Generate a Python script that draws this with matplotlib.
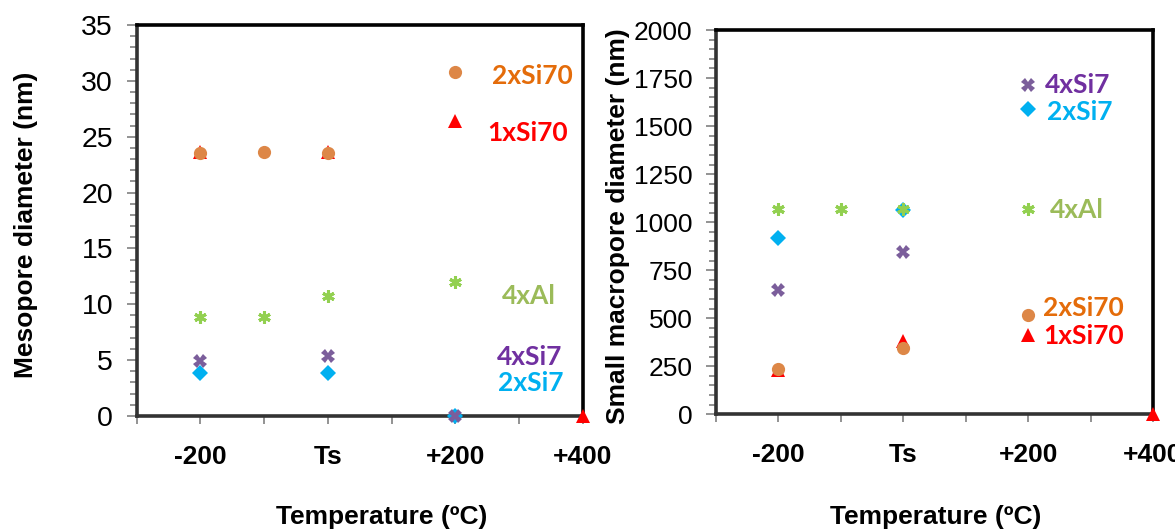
import numpy as np
import matplotlib.pyplot as plt

# x positions on the category axis (0..7), labels only on every second tick
tick_pos = [0, 1, 2, 3, 4, 5, 6, 7]
tick_labels = ['', '-200', '', 'Ts', '', '+200', '', '+400']

# Mesopore diameter (nm)
meso_1xsi70_x = [1, 3, 5, 7]
meso_1xsi70_y = [23.6, 23.6, 26.4, 0]
meso_2xsi70_x = [1, 2, 3, 5]
meso_2xsi70_y = [23.5, 23.6, 23.5, 30.8]
meso_2xsi7_x = [1, 3, 5]
meso_2xsi7_y = [3.85, 3.85, 0]
meso_4xsi7_x = [1, 3, 5]
meso_4xsi7_y = [4.9, 5.4, 0]
meso_4xal_x = [1, 2, 3, 5]
meso_4xal_y = [8.85, 8.85, 10.7, 11.95]

# Small macropore diameter (nm)
macro_1xsi70_x = [1, 3, 5, 7]
macro_1xsi70_y = [228, 380, 415, 0]
macro_2xsi70_x = [1, 3, 5]
macro_2xsi70_y = [238, 346, 515]
macro_2xsi7_x = [1, 3, 5]
macro_2xsi7_y = [918, 1065, 1588]
macro_4xsi7_x = [1, 3, 5]
macro_4xsi7_y = [646, 845, 1716]
macro_4xal_x = [1, 2, 3, 5]
macro_4xal_y = [1071, 1071, 1071, 1071]

# marker style per series: (marker, size, color, edge width)
styles = {
    '1xSi70': ('^', 9.5, '#FF0000', 0),
    '2xSi70': ('o', 9.5, '#DD8747', 0),
    '2xSi7': ('D', 8.5, '#00B0F0', 0),
    '4xSi7': ('X', 10, '#7B5E9B', 0),
    '4xAl': ((6, 2, 0), 9, '#92D050', 2.2),
}
label_colors = {
    '2xSi70': '#E46C0A', '1xSi70': '#FF0000', '4xAl': '#9BBB59',
    '4xSi7': '#7030A0', '2xSi7': '#00B0F0',
}

plt.rcParams['font.family'] = ['Liberation Sans', 'DejaVu Sans']

fig = plt.figure(figsize=(11.75, 5.31), dpi=100)
ax1 = fig.add_axes([0.1163, 0.2166, 0.3796, 0.7363])
ax2 = fig.add_axes([0.6094, 0.2198, 0.3719, 0.7237])


def draw_series(ax, name, x, y):
    mk, ms, col, lw = styles[name]
    ax.plot(x, y, linestyle='none', marker=mk, markersize=ms, color=col,
            markeredgewidth=lw, markeredgecolor=col, clip_on=False, zorder=3)


def style_axes(ax, ymax, minor_step, major_step, ylabel, ytick_size):
    ax.set_xlim(0, 7)
    ax.set_ylim(0, ymax)
    ax.set_xticks(tick_pos)
    ax.set_xticklabels(tick_labels, fontsize=19, fontweight='bold')
    ax.set_yticks(np.arange(0, ymax + 1, major_step))
    ax.set_yticks(np.arange(0, ymax + 1, minor_step), minor=True)
    ax.tick_params(axis='y', which='major', labelsize=ytick_size, length=7,
                   width=1.2, color='#808080', pad=10)
    ax.tick_params(axis='y', which='minor', length=5, width=1.2, color='#808080')
    ax.tick_params(axis='x', which='major', length=6, width=1.2,
                   color='#808080', pad=15)
    for s in ['top', 'right']:
        ax.spines[s].set_color('black')
        ax.spines[s].set_linewidth(2.6)
    for s in ['left', 'bottom']:
        ax.spines[s].set_color('#333333')
        ax.spines[s].set_linewidth(2.6)
    ax.set_ylabel(ylabel, fontsize=19, fontweight='bold')
    ax.yaxis.label.set_verticalalignment('center')
    ax.set_xlabel('Temperature (ºC)', fontsize=19, fontweight='bold')
    ax.xaxis.label.set_verticalalignment('center')


lab_font = dict(fontsize=19, fontweight='bold', family=['Lato', 'DejaVu Sans'],
                va='center', ha='left')

# left panel
draw_series(ax1, '1xSi70', meso_1xsi70_x, meso_1xsi70_y)
draw_series(ax1, '2xSi70', meso_2xsi70_x, meso_2xsi70_y)
draw_series(ax1, '2xSi7', meso_2xsi7_x, meso_2xsi7_y)
draw_series(ax1, '4xSi7', meso_4xsi7_x, meso_4xsi7_y)
draw_series(ax1, '4xAl', meso_4xal_x, meso_4xal_y)
style_axes(ax1, 35, 1, 5, 'Mesopore diameter (nm)', 20.5)
ax1.yaxis.set_label_coords(-0.248, 0.49)
ax1.xaxis.set_label_coords(0.55, -0.258)

ax1.text(5.57, 30.4, '2xSi70', color=label_colors['2xSi70'], **lab_font)
ax1.text(5.50, 25.3, '1xSi70', color=label_colors['1xSi70'], **lab_font)
ax1.text(5.73, 10.74, '4xAl', color=label_colors['4xAl'], **lab_font)
ax1.text(5.66, 5.31, '4xSi7', color=label_colors['4xSi7'], **lab_font)
ax1.text(5.67, 2.93, '2xSi7', color=label_colors['2xSi7'], **lab_font)

# right panel
draw_series(ax2, '1xSi70', macro_1xsi70_x, macro_1xsi70_y)
draw_series(ax2, '2xSi70', macro_2xsi70_x, macro_2xsi70_y)
draw_series(ax2, '2xSi7', macro_2xsi7_x, macro_2xsi7_y)
draw_series(ax2, '4xSi7', macro_4xsi7_x, macro_4xsi7_y)
draw_series(ax2, '4xAl', macro_4xal_x, macro_4xal_y)
style_axes(ax2, 2000, 50, 250, 'Small macropore diameter (nm)', 19)
ax2.yaxis.set_label_coords(-0.225, 0.49)
ax2.xaxis.set_label_coords(0.503, -0.266)

ax2.text(5.27, 1713, '4xSi7', color=label_colors['4xSi7'], **lab_font)
ax2.text(5.30, 1574, '2xSi7', color=label_colors['2xSi7'], **lab_font)
ax2.text(5.35, 1063, '4xAl', color=label_colors['4xAl'], **lab_font)
ax2.text(5.24, 551, '2xSi70', color=label_colors['2xSi70'], **lab_font)
ax2.text(5.24, 407, '1xSi70', color=label_colors['1xSi70'], **lab_font)

fig.savefig('out.png', dpi=100)
